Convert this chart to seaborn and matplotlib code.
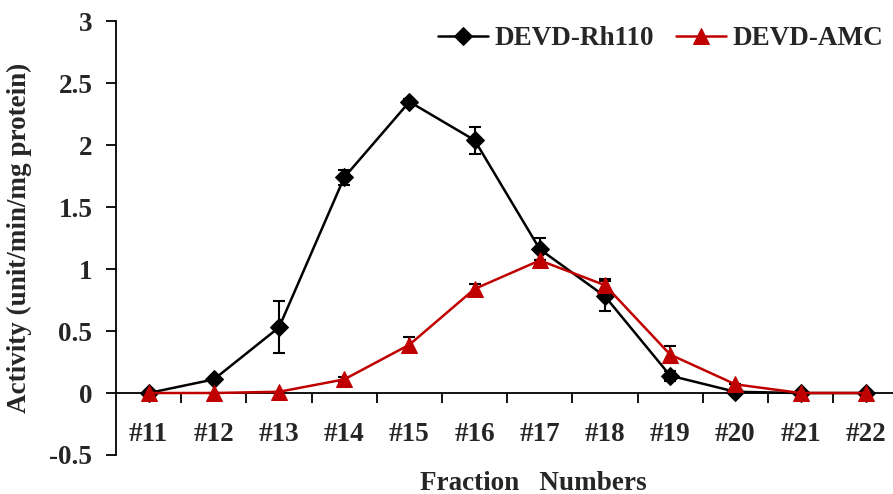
import numpy as np
import pandas as pd
import matplotlib
matplotlib.use('Agg')
import matplotlib.pyplot as plt
import seaborn as sns
from matplotlib.ticker import FixedLocator

# Dados
fracoes = ['#11', '#12', '#13', '#14', '#15', '#16', '#17', '#18', '#19', '#20', '#21', '#22']
rh110 = [0.0, 0.11, 0.53, 1.74, 2.35, 2.04, 1.16, 0.78, 0.14, 0.01, 0.0, 0.0]
rh110_err = [0.0, 0.0, 0.21, 0.06, 0.02, 0.11, 0.09, 0.12, 0.04, 0.0, 0.0, 0.0]
amc = [0.0, 0.0, 0.01, 0.11, 0.39, 0.84, 1.07, 0.87, 0.31, 0.07, 0.0, 0.0]
amc_err = [0.0, 0.0, 0.0, 0.02, 0.06, 0.04, 0.0, 0.05, 0.07, 0.0, 0.0, 0.0]
yticks = [-0.5, 0, 0.5, 1, 1.5, 2, 2.5, 3]
ytick_labels = ['-0.5', '0', '0.5', '1', '1.5', '2', '2.5', '3']

sns.set_theme(style='white')
plt.rcParams['font.family'] = ['Liberation Serif', 'DejaVu Serif']
plt.rcParams['font.weight'] = 'bold'
fs = 19.5

df = pd.DataFrame({'Fraction': fracoes, 'Rh110': rh110, 'AMC': amc})
pos = np.arange(len(fracoes))

fig = plt.figure(figsize=(8.93, 4.94), dpi=100)
ax = fig.add_axes([0.130, 0.079, 0.876, 0.878])

vermelho = '#C00000'

ax.errorbar(pos, rh110, yerr=rh110_err, fmt='none', ecolor='black', elinewidth=1.5,
            capsize=4, capthick=1.5, zorder=2)
ax.errorbar(pos, amc, yerr=amc_err, fmt='none', ecolor='black', elinewidth=1.5,
            capsize=4, capthick=1.5, zorder=2)

sns.lineplot(x=pos, y=df['Rh110'], ax=ax, color='black', marker='D', markersize=9,
             markeredgecolor='black', linewidth=1.8, label='DEVD-Rh110', zorder=3)
sns.lineplot(x=pos, y=df['AMC'], ax=ax, color=vermelho, marker='^', markersize=12,
             markeredgecolor=vermelho, linewidth=1.8, label='DEVD-AMC', zorder=4)

ax.set_xlim(-0.5, len(fracoes) - 0.5)
ax.set_ylim(-0.5, 3)

# Eixo x cruzando em y = 0
ax.spines['bottom'].set_position(('data', 0))
ax.spines['top'].set_visible(False)
ax.spines['right'].set_visible(False)
for s in ['left', 'bottom']:
    ax.spines[s].set_color('black')
    ax.spines[s].set_linewidth(1.3)

ax.xaxis.set_major_locator(FixedLocator(pos))
ax.set_xticklabels(fracoes, fontweight='bold')
ax.xaxis.set_minor_locator(FixedLocator(pos[:-1] + 0.5))
ax.tick_params(axis='x', which='major', length=0, pad=21, labelsize=fs)
ax.tick_params(axis='x', which='minor', length=7, width=1.3, direction='out', color='black', bottom=True)

ax.set_yticks(yticks)
ax.set_yticklabels(ytick_labels, fontweight='bold')
ax.tick_params(axis='y', length=7, width=1.3, direction='out', color='black', left=True, pad=10, labelsize=fs)

ax.set_xlabel('Fraction   Numbers', fontweight='bold', fontsize=fs)
ax.xaxis.set_label_coords(0.533, -0.036)
ax.set_ylabel('Activity (unit/min/mg protein)', fontweight='bold', fontsize=fs)
ax.yaxis.set_label_coords(-0.108, 0.5)

ax.legend(loc='upper right', bbox_to_anchor=(1.012, 1.045), ncol=2, frameon=False,
          handlelength=1.85, handletextpad=0.25, columnspacing=0.8,
          prop={'weight': 'bold', 'size': fs, 'family': 'Liberation Serif'})

ax.grid(False)
fig.savefig('out.png', dpi=100)
